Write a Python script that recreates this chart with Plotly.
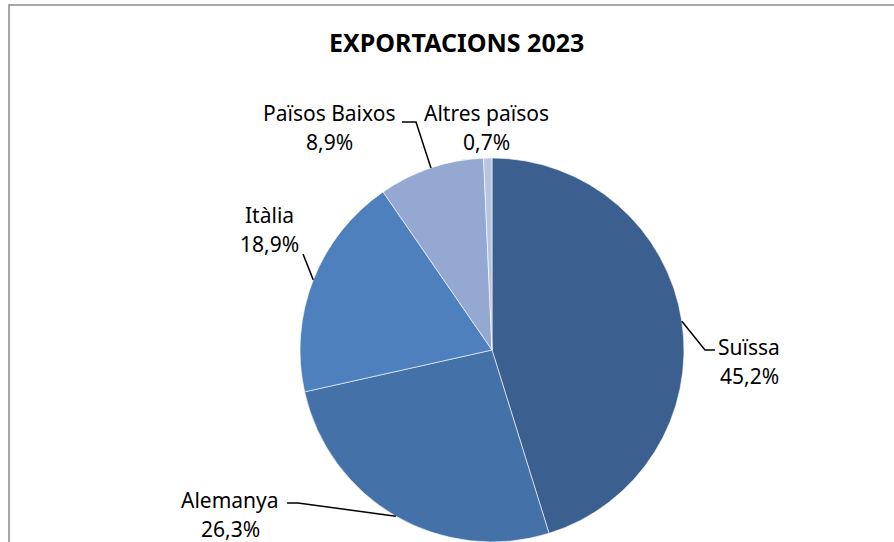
import math
import plotly.graph_objects as go

# ---- data ----
countries = ["Suïssa", "Alemanya", "Itàlia", "Països Baixos", "Altres països"]
shares = [45.2, 26.3, 18.9, 8.9, 0.7]
title_text = "EXPORTACIONS 2023"

# ---- style / layout ----
W, H = 894, 542
colors = ["#3B608F", "#4472A8", "#4E80BE", "#94A8D1", "#B8C4E0"]
CX, CY, R = 492, 350, 192          # pie centre and radius in pixels
FONT = "Noto Sans"
FS = 21
LINE_GAP = 29
# label first-line centres (px) and leader attach points (px, None = no leader)
label_pos = [(749, 347), (230, 500), (269, 215), (329, 113), (486, 113)]
attach = [[(705, 350), (715, 350)],
          [(298, 503), (287, 503)],
          [(303, 254)],
          [(416, 122), (402, 122)],
          None]

def px(x):
    return x / W

def py(y):
    return 1 - y / H

fig = go.Figure(go.Pie(
    labels=countries,
    values=shares,
    sort=False,
    direction="clockwise",
    rotation=0,
    marker=dict(colors=colors, line=dict(color="white", width=0.6)),
    textinfo="none",
    hoverinfo="label+percent",
    showlegend=False,
    domain=dict(x=[px(CX - R), px(CX + R)], y=[py(CY + R), py(CY - R)]),
))

total = sum(shares)
cum = 0.0
annotations = []
shapes = []
for i, (name, v) in enumerate(zip(countries, shares)):
    mid = (cum + v / 2) / total
    cum += v
    theta = 2 * math.pi * mid
    ex = CX + R * math.sin(theta)
    ey = CY - R * math.cos(theta)
    lx, ly = label_pos[i]
    for j, txt in enumerate([name, str(v).replace('.', ',') + "%"]):
        annotations.append(dict(
            x=px(lx), y=py(ly + j * LINE_GAP), xref="paper", yref="paper",
            text=txt, showarrow=False, xanchor="center", yanchor="middle",
            font=dict(family=FONT, size=FS, color="#000000"),
        ))
    if attach[i]:
        pts = [(ex, ey)] + attach[i]
        path = "M " + " L ".join(f"{px(a):.5f},{py(b):.5f}" for a, b in pts)
        shapes.append(dict(type="path", path=path, xref="paper", yref="paper",
                           line=dict(color="#000000", width=1.5)))

# chart frame
shapes.append(dict(type="rect", xref="paper", yref="paper",
                   x0=px(9), x1=1.02, y0=-0.02, y1=py(5),
                   line=dict(color="#8C8C8C", width=1.5)))

annotations.append(dict(
    x=px(457), y=py(42), xref="paper", yref="paper",
    text=f"<b>{title_text}</b>", showarrow=False, xanchor="center", yanchor="middle",
    font=dict(family=FONT, size=25, color="#000000"),
))

fig.update_layout(
    width=W, height=H,
    margin=dict(l=0, r=0, t=0, b=0),
    paper_bgcolor="white",
    plot_bgcolor="white",
    annotations=annotations,
    shapes=shapes,
)

fig.write_html("out.html", config={"displayModeBar": False},
               post_script="document.body.style.margin='0';")
